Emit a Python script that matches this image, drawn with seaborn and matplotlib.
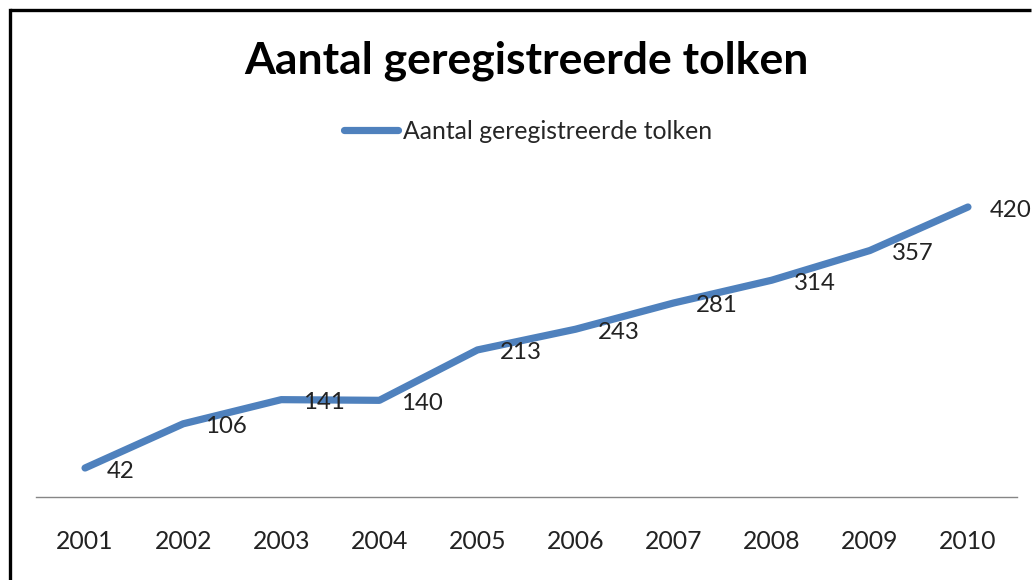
import matplotlib
matplotlib.use("Agg")
import matplotlib.pyplot as plt
import seaborn as sns
import pandas as pd
from matplotlib.lines import Line2D

jaren = ['2001', '2002', '2003', '2004', '2005', '2006', '2007', '2008', '2009', '2010']
tolken = [42, 106, 141, 140, 213, 243, 281, 314, 357, 420]
reeks = 'Aantal geregistreerde tolken'

df = pd.DataFrame({'jaar': jaren, 'aantal': tolken})

sns.set_style('white')
plt.rcParams['font.family'] = ['Lato', 'DejaVu Sans']

W, H = 1033, 580
fig = plt.figure(figsize=(W / 100, H / 100), dpi=100)
ax = fig.add_axes([36 / W, 1 - 497 / H, (1017 - 36) / W, (497 - 186.3) / H])

sns.lineplot(data=df, x='jaar', y='aantal', ax=ax, color='#4F81BD', linewidth=5.2,
             solid_capstyle='round', sort=False, label=reeks)

for i, v in enumerate(tolken):
    ax.annotate(str(v), (i, v), xytext=(22, -3), textcoords='offset pixels',
                ha='left', va='center', fontsize=17.3, color='#222222')

ax.set_xlim(-0.5, len(jaren) - 0.5)
ax.set_ylim(0, 450)
ax.set_xlabel('')
ax.set_ylabel('')
ax.set_yticks([])
for s in ['top', 'right', 'left']:
    ax.spines[s].set_visible(False)
ax.spines['bottom'].set_color('#868686')
ax.spines['bottom'].set_linewidth(1)
ax.tick_params(axis='x', length=0, pad=24, labelsize=17.8, labelcolor='#222222')

ax.legend(loc='center', bbox_to_anchor=(528 / W, 1 - 131 / H), bbox_transform=fig.transFigure,
          frameon=False, fontsize=17.8, handlelength=2.2, handletextpad=0.2)

fig.text(526 / W, 1 - 61 / H, 'Aantal geregistreerde tolken', ha='center', va='center',
         fontsize=32, fontweight='bold', color='black')

# kader: alleen linker- en bovenrand vallen binnen het beeld
x0, y0 = 9.5 / W, 1 - 9.5 / H
fig.add_artist(Line2D([x0, x0], [0, y0], transform=fig.transFigure, color='black',
                      linewidth=2.4, solid_capstyle='projecting'))
fig.add_artist(Line2D([x0, 1 - 2 / W], [y0, y0], transform=fig.transFigure, color='black',
                      linewidth=2.4, solid_capstyle='butt'))

fig.savefig('out.png', dpi=100, facecolor='white')
